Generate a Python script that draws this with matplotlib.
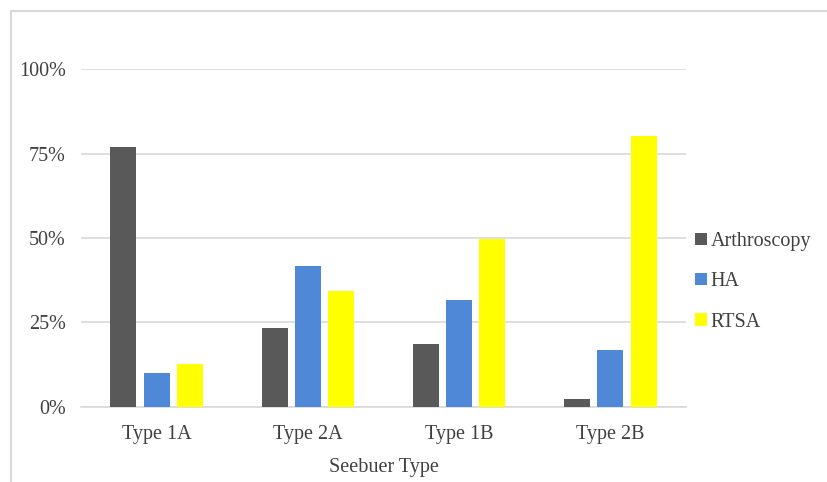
import numpy as np
import matplotlib
matplotlib.use("Agg")
import matplotlib.pyplot as plt
from matplotlib.lines import Line2D
from matplotlib.ticker import PercentFormatter

categories = ["Type 1A", "Type 2A", "Type 1B", "Type 2B"]
arthroscopy = [0.771, 0.232, 0.186, 0.024]
ha = [0.101, 0.418, 0.315, 0.167]
rtsa = [0.126, 0.344, 0.498, 0.802]

series = [("Arthroscopy", arthroscopy, "#595959"),
          ("HA", ha, "#4f88d6"),
          ("RTSA", rtsa, "#ffff00")]

plt.rcParams["font.family"] = ["Liberation Serif", "DejaVu Serif"]

fig = plt.figure(figsize=(8.27, 4.82), dpi=100)
ax = fig.add_axes([0.098, 0.1562, 0.7315, 0.70])

x = np.arange(len(categories))
width = 0.172
step = 0.22
for i, (name, vals, color) in enumerate(series):
    ax.bar(x + (i - 1) * step, vals, width, color=color, label=name, zorder=3)

ax.set_xlim(-0.5, len(categories) - 0.5)
ax.set_ylim(0, 1.0)
ax.set_yticks([0, 0.25, 0.5, 0.75, 1.0])
ax.yaxis.set_major_formatter(PercentFormatter(1.0, decimals=0))
ax.set_xticks(x)
ax.set_xticklabels(categories)
ax.grid(axis="y", color="#d9d9d9", linewidth=1.2, zorder=0)
for s in ["left", "right", "top"]:
    ax.spines[s].set_visible(False)
ax.spines["bottom"].set_color("#d9d9d9")
ax.spines["bottom"].set_linewidth(1.2)
ax.tick_params(axis="both", length=0, labelsize=14.5, colors="#404040")
ax.tick_params(axis="y", pad=11)
ax.tick_params(axis="x", pad=13)
ax.set_xlabel("Seebuer Type", fontsize=14.5, color="#404040", labelpad=10)

fig.legend(loc="center left", bbox_to_anchor=(0.819, 0.415), frameon=False,
           fontsize=14.5, handlelength=0.55, handleheight=0.55, handletextpad=0.2,
           labelspacing=1.05, labelcolor="#404040")

# outer border of the chart
fig.add_artist(Line2D([10.5 / 827, 10.5 / 827, 1.0], [0.0, 1 - 11 / 482, 1 - 11 / 482],
                      transform=fig.transFigure, color="#d9d9d9", linewidth=1.5))

fig.savefig("out.png", dpi=100)
